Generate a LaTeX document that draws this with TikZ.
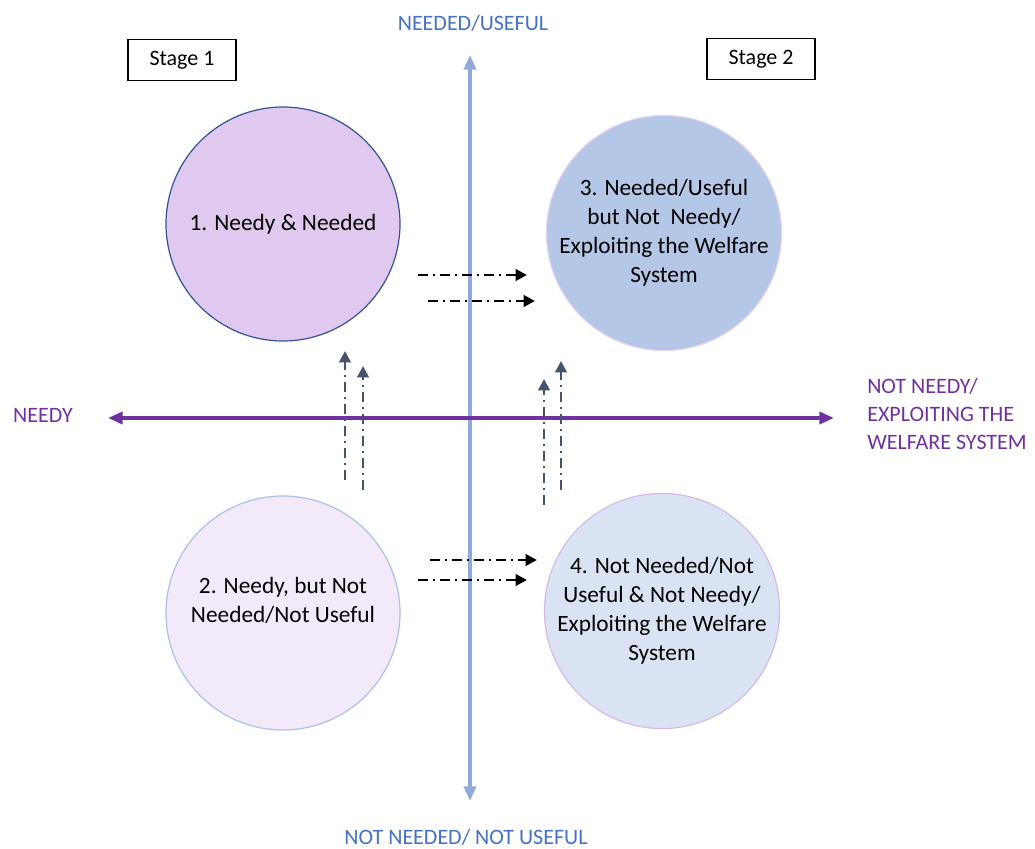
\documentclass[tikz,border=0pt]{standalone}
\usepackage{fontspec}
\setmainfont{Carlito}
\usetikzlibrary{arrows.meta}
\definecolor{axisblue}{HTML}{8EAADB}
\definecolor{axispurple}{HTML}{7030A0}
\definecolor{labelblue}{HTML}{4472C4}
\definecolor{slate}{HTML}{44546A}
\definecolor{fillA}{HTML}{E0C9EE}
\definecolor{fillB}{HTML}{F2EAF8}
\definecolor{fillC}{HTML}{B4C7E7}
\definecolor{fillD}{HTML}{DAE3F3}
\definecolor{edgeA}{HTML}{2F5597}
\definecolor{edgeB}{HTML}{A9C2E8}
\definecolor{edgeC}{HTML}{E6D3F0}
\definecolor{edgeD}{HTML}{D7B9E8}
\tikzset{
  quad/.style={circle, minimum size=175.5pt, inner sep=0pt, line width=0.9pt,
    align=center, font=\fontsize{17.5}{21.8}\selectfont, text=black},
  quadtext/.style={align=center, inner sep=0pt, font=\fontsize{17.5}{21.8}\selectfont, text=black},
  stagebox/.style={draw=black, line width=0.9pt, minimum width=81pt, minimum height=31pt,
    inner sep=0pt, font=\fontsize{16.5}{19}\selectfont},
  axislabel/.style={font=\fontsize{16.5}{21}\selectfont, inner sep=0pt},
  flow/.style={line width=2.1pt, dash pattern=on 7.5pt off 3.5pt on 2pt off 3.5pt,
    -{Triangle[length=8.5pt,width=8.5pt]}},
}
\begin{document}
\begin{tikzpicture}[x=0.75pt,y=-0.75pt]
\useasboundingbox (0,0) rectangle (1035,849);

% axes
\coordinate (vtop) at (470,55);
\coordinate (vbot) at (470,801);
\coordinate (hl) at (108,418);
\coordinate (hr) at (834,418);
\draw[axisblue, line width=3pt, {Triangle[length=11pt,width=9pt]}-{Triangle[length=11pt,width=9pt]}] (vbot) -- (vtop);
\draw[axispurple, line width=3pt, {Triangle[length=11pt,width=9pt]}-{Triangle[length=11pt,width=9pt]}] (hl) -- (hr);

% axis labels
\node[axislabel, text=labelblue] (ltop) at (473,23) {NEEDED/USEFUL};
\node[axislabel, text=labelblue] (lbot) at (466,837) {NOT NEEDED/ NOT USEFUL};
\node[axislabel, text=axispurple] (lleft) at (43,415) {NEEDY};
\node[axislabel, text=axispurple, align=left, anchor=west] (lright) at (867,414)
  {NOT NEEDY/\\EXPLOITING THE\\WELFARE SYSTEM};

% stage boxes
\node[stagebox] (s1) at (182,60) {Stage 1};
\node[stagebox] (s2) at (761,59) {Stage 2};

% the four quadrants
\node[quad, fill=fillA, draw=edgeA] (q1) at (283,224) {1. Needy \& Needed};
\node[quad, fill=fillC, draw=edgeC] (q3) at (664,233)
  {3. Needed/Useful\\but Not\ \ Needy/\\Exploiting the Welfare\\System};
\node[quad, fill=fillB, draw=edgeB] (q2) at (283,613) {};
\node[quadtext] (q2t) at (283,600) {2. Needy, but Not\\Needed/Not Useful};
\node[quad, fill=fillD, draw=edgeD] (q4) at (662,611)
  {4. Not Needed/Not\\Useful \& Not Needy/\\Exploiting the Welfare\\System};

% movement arrows between quadrants
\coordinate (a1s) at (418,275); \coordinate (a1e) at (527,275);
\coordinate (a2s) at (428,301); \coordinate (a2e) at (535,301);
\coordinate (b1s) at (430,560); \coordinate (b1e) at (537,560);
\coordinate (b2s) at (418,580); \coordinate (b2e) at (527,580);
\draw[flow, black] (a1s) -- (a1e);
\draw[flow, black] (a2s) -- (a2e);
\draw[flow, black] (b1s) -- (b1e);
\draw[flow, black] (b2s) -- (b2e);

\coordinate (c1s) at (345,480); \coordinate (c1e) at (345,351);
\coordinate (c2s) at (363,490); \coordinate (c2e) at (363,366);
\coordinate (d1s) at (544,505); \coordinate (d1e) at (544,379);
\coordinate (d2s) at (561,490); \coordinate (d2e) at (561,361);
\draw[flow, slate] (c1s) -- (c1e);
\draw[flow, slate] (c2s) -- (c2e);
\draw[flow, slate] (d1s) -- (d1e);
\draw[flow, slate] (d2s) -- (d2e);
\end{tikzpicture}
\end{document}
